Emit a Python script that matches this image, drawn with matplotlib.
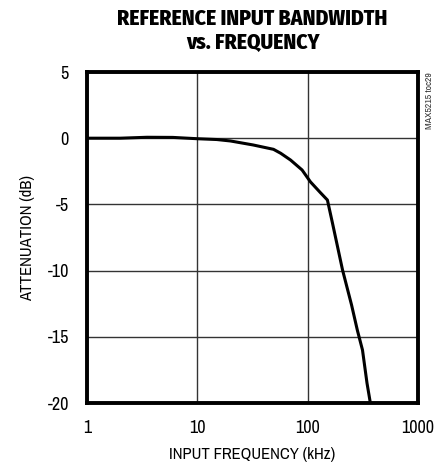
import matplotlib
matplotlib.use("Agg")
import matplotlib.pyplot as plt
from matplotlib import font_manager

# Frequency response of the reference input
freq_khz = [1, 2, 3.5, 6, 10, 15, 20, 32, 49, 57, 70, 89, 106, 130, 151, 168, 207, 250, 282, 314, 345, 370]
atten_db = [0.0, 0.0, 0.07, 0.06, -0.04, -0.1, -0.21, -0.51, -0.84, -1.14, -1.65, -2.4, -3.3, -4.1, -4.67, -6.43, -9.95, -12.6, -14.5, -16.0, -18.5, -20.0]

x_ticks = [1, 10, 100, 1000]
x_tick_labels = ["1", "10", "100", "1000"]
y_ticks = [5, 0, -5, -10, -15, -20]
y_tick_labels = ["5", "0", "-5", "-10", "-15", "-20"]

installed = {f.name for f in font_manager.fontManager.ttflist}


def pick(*names):
    for n in names:
        if n in installed:
            return n
    return "DejaVu Sans"


body_font = pick("Archivo Narrow", "Roboto Condensed", "Barlow Condensed")
title_font = pick("Fira Sans Condensed", "Barlow Condensed", "Roboto Condensed")
plt.rcParams["font.family"] = [body_font, "DejaVu Sans"]

fig = plt.figure(figsize=(4.46, 4.65), dpi=100)
ax = fig.add_axes([87 / 446, 1 - 403 / 465, 331 / 446, 331 / 465])

ax.plot(freq_khz, atten_db, color="black", lw=2.2, solid_joinstyle="round")
ax.set_xscale("log")
ax.set_xlim(1, 1000)
ax.set_ylim(-20, 5)
ax.set_xticks(x_ticks)
ax.set_xticklabels(x_tick_labels)
ax.set_yticks(y_ticks)
ax.set_yticklabels(y_tick_labels)
ax.minorticks_off()
ax.tick_params(axis="y", length=0, labelsize=13, pad=13)
ax.tick_params(axis="x", length=0, labelsize=13, pad=12)
ax.grid(True, color="#333333", lw=1.0)
for s in ax.spines.values():
    s.set_linewidth(2.8)

ax.set_xlabel("INPUT FREQUENCY (kHz)", fontsize=12, labelpad=8)
ax.set_ylabel("ATTENUATION (dB)", fontsize=12, labelpad=9)

# Title is centred over the plot frame
title_x = (ax.get_position().x0 + ax.get_position().x1) / 2
fig.text(title_x, 1 - 19 / 465, "REFERENCE INPUT BANDWIDTH", ha="center", va="center",
         fontsize=15.5, fontweight=800, family=[title_font, "DejaVu Sans"])
fig.text(title_x, 1 - 43 / 465, "vs. FREQUENCY", ha="center", va="center",
         fontsize=15.5, fontweight=800, family=[title_font, "DejaVu Sans"])
fig.text(429 / 446, 1 - 72 / 465, "MAX5215 toc29", rotation=90, ha="center", va="top",
         fontsize=7, color="#333333")

fig.savefig("out.png", dpi=100)
